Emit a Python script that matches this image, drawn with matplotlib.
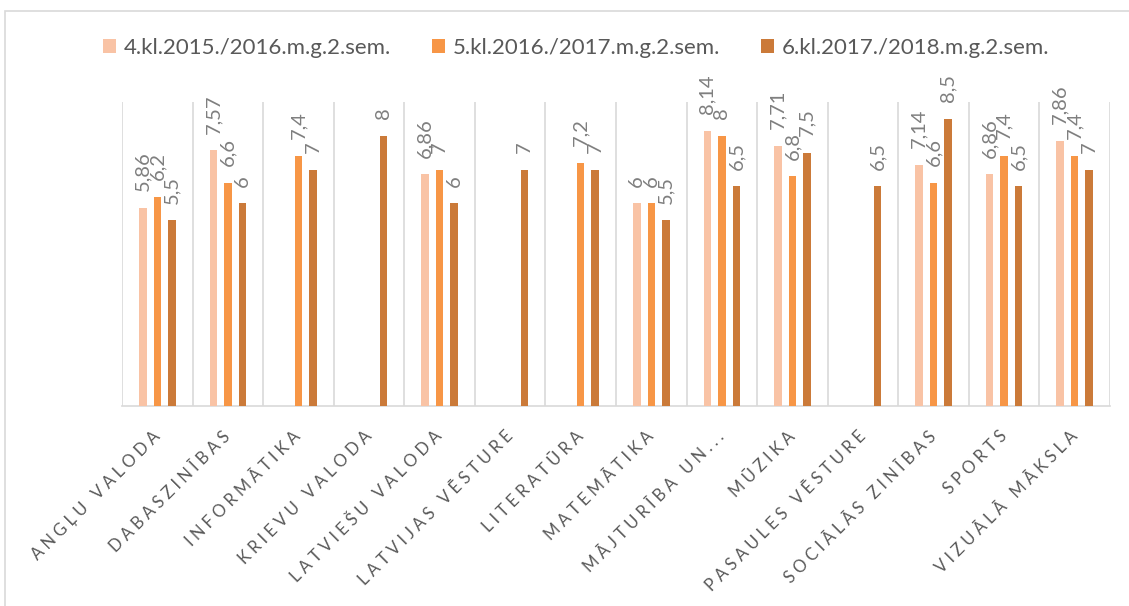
import numpy as np
import matplotlib
matplotlib.use("Agg")
import matplotlib.pyplot as plt
from matplotlib.patches import Rectangle

# priekšmeti un vidējie vērtējumi (NaN = nav vērtējuma)
categories = ["ANGĻU VALODA", "DABASZINĪBAS", "INFORMĀTIKA", "KRIEVU VALODA",
              "LATVIEŠU VALODA", "LATVIJAS VĒSTURE", "LITERATŪRA", "MATEMĀTIKA",
              "MĀJTURĪBA UN...", "MŪZIKA", "PASAULES VĒSTURE", "SOCIĀLĀS ZINĪBAS",
              "SPORTS", "VIZUĀLĀ MĀKSLA"]
series_names = ["4.kl.2015./2016.m.g.2.sem.",
                "5.kl.2016./2017.m.g.2.sem.",
                "6.kl.2017./2018.m.g.2.sem."]
nan = np.nan
kl4 = [5.86, 7.57, nan, nan, 6.86, nan, nan, 6, 8.14, 7.71, nan, 7.14, 6.86, 7.86]
kl5 = [6.2, 6.6, 7.4, nan, 7, nan, 7.2, 6, 8, 6.8, nan, 6.6, 7.4, 7.4]
kl6 = [5.5, 6, 7, 8, 6, 7, 7, 5.5, 6.5, 7.5, 6.5, 8.5, 6.5, 7]
colors = ["#F9C3A5", "#F79646", "#CB7A39"]

plt.rcParams['font.family'] = ['Lato', 'DejaVu Sans']

W, H = 1129, 606
fig = plt.figure(figsize=(W / 100, H / 100), dpi=100)
ax = fig.add_axes([122 / W, 1 - 406 / H, (1110 - 122) / W, (406 - 102) / H])

# chart area border (only top/left visible)
fig.patches.append(Rectangle((5 / W, -0.1), 1.2, 1 - 11 / H + 0.1,
                             transform=fig.transFigure, fill=False,
                             edgecolor="#D9D9D9", linewidth=1.2, zorder=0))

x = np.arange(len(categories))
offsets = [-0.206, 0, 0.206]
bw = 0.107
for vals, off, col, name in zip([kl4, kl5, kl6], offsets, colors, series_names):
    vals = np.array(vals, dtype=float)
    ok = ~np.isnan(vals)
    ax.bar(x[ok] + off, vals[ok], width=bw, color=col, label=name, zorder=3)
    for xi, v in zip(x[ok] + off, vals[ok]):
        txt = ("%g" % v).replace(".", ",")
        ax.annotate(txt, (xi, v), xytext=(0, 12), textcoords="offset points",
                    rotation=90, ha="center", va="bottom",
                    fontsize=14.5, color="#7F7F7F")

ax.set_xlim(-0.5, len(categories) - 0.5)
ax.set_ylim(0, 9)
ax.set_yticks([])
for s in ["left", "right", "top"]:
    ax.spines[s].set_visible(False)
ax.spines["bottom"].set_color("#D9D9D9")
ax.spines["bottom"].set_linewidth(1.2)

ax.set_xticks(np.arange(-0.5, len(categories)), minor=True)
ax.grid(which="minor", axis="x", color="#D9D9D9", linewidth=1.2, zorder=0)
ax.tick_params(which="minor", length=0)
ax.set_xticks(x)


def spaced(s):
    # Excel letter spacing imitation
    return "\u2005".join(s)


ax.set_xticklabels([spaced(c) for c in categories], rotation=45, ha="right",
                   va="center", rotation_mode="anchor", fontsize=12,
                   color="#595959")
ax.tick_params(axis="x", which="major", length=0, pad=20)

fig.legend(loc="center", bbox_to_anchor=(576 / W, 1 - 48 / H), ncol=3,
           frameon=False, fontsize=16, labelcolor="#595959",
           handlelength=0.59, handleheight=0.59, handletextpad=0.36,
           columnspacing=1.83)

fig.savefig("out.png", dpi=100)
